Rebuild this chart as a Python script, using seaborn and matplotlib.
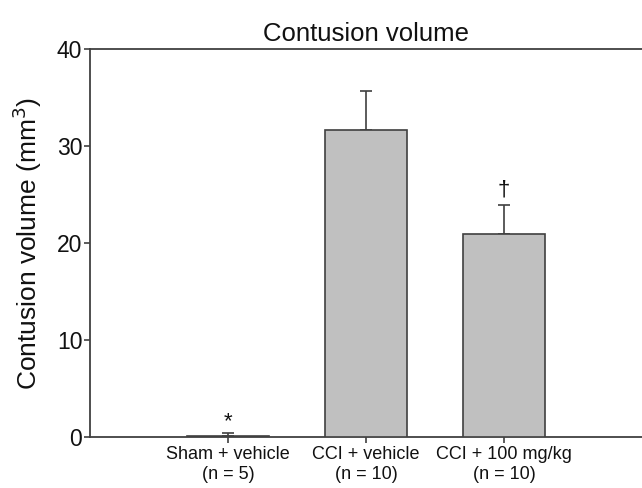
import matplotlib
matplotlib.use("Agg")
import matplotlib.pyplot as plt
import seaborn as sns

# data
groups = ["Sham + vehicle\n(n = 5)", "CCI + vehicle\n(n = 10)", "CCI + 100 mg/kg\n(n = 10)"]
means = [0.15, 31.6, 20.9]
sems = [0.25, 4.1, 3.0]
marks = ["*", "", "\u2020"]
mark_y = [1.6, 0, 25.5]

sns.set_style("ticks")
plt.rcParams["font.family"] = ["Liberation Sans", "DejaVu Sans"]

fig = plt.figure(figsize=(6.42, 4.88), dpi=100)
ax = fig.add_axes([90 / 642, 1 - 437 / 488, 552 / 642, 388 / 488])

edge = "#404040"
sns.barplot(x=groups, y=means, color="#c0c0c0", saturation=1, width=0.6,
            edgecolor=edge, linewidth=1.2, ax=ax, zorder=3)
ax.errorbar(range(len(groups)), means, yerr=[[0] * len(sems), sems], fmt="none",
            ecolor=edge, elinewidth=1.2, capsize=4.3, capthick=1.2, zorder=2)

for i, (m, y) in enumerate(zip(marks, mark_y)):
    if m:
        ax.text(i, y, m, ha="center", va="center", fontsize=16, color="#111111")

ax.set_xlim(-1, 3)
ax.set_ylim(0, 40)
ax.set_yticks([0, 10, 20, 30, 40])
ax.set_title("Contusion volume", fontsize=18.5, color="#111111", pad=6)
ax.set_ylabel("Contusion volume (mm$^3$)", fontsize=19, color="#111111", labelpad=9)
ax.set_xlabel("")
ax.tick_params(axis="y", labelsize=16.5, length=4, width=1.2, color=edge, pad=1.5, labelcolor="#111111")
ax.tick_params(axis="x", labelsize=13, length=4.5, width=1.2, color=edge, pad=2, labelcolor="#111111")
for s in ["left", "bottom", "top"]:
    ax.spines[s].set_color(edge)
    ax.spines[s].set_linewidth(1.3)
ax.spines["right"].set_visible(False)

fig.savefig("out.png", dpi=100)
